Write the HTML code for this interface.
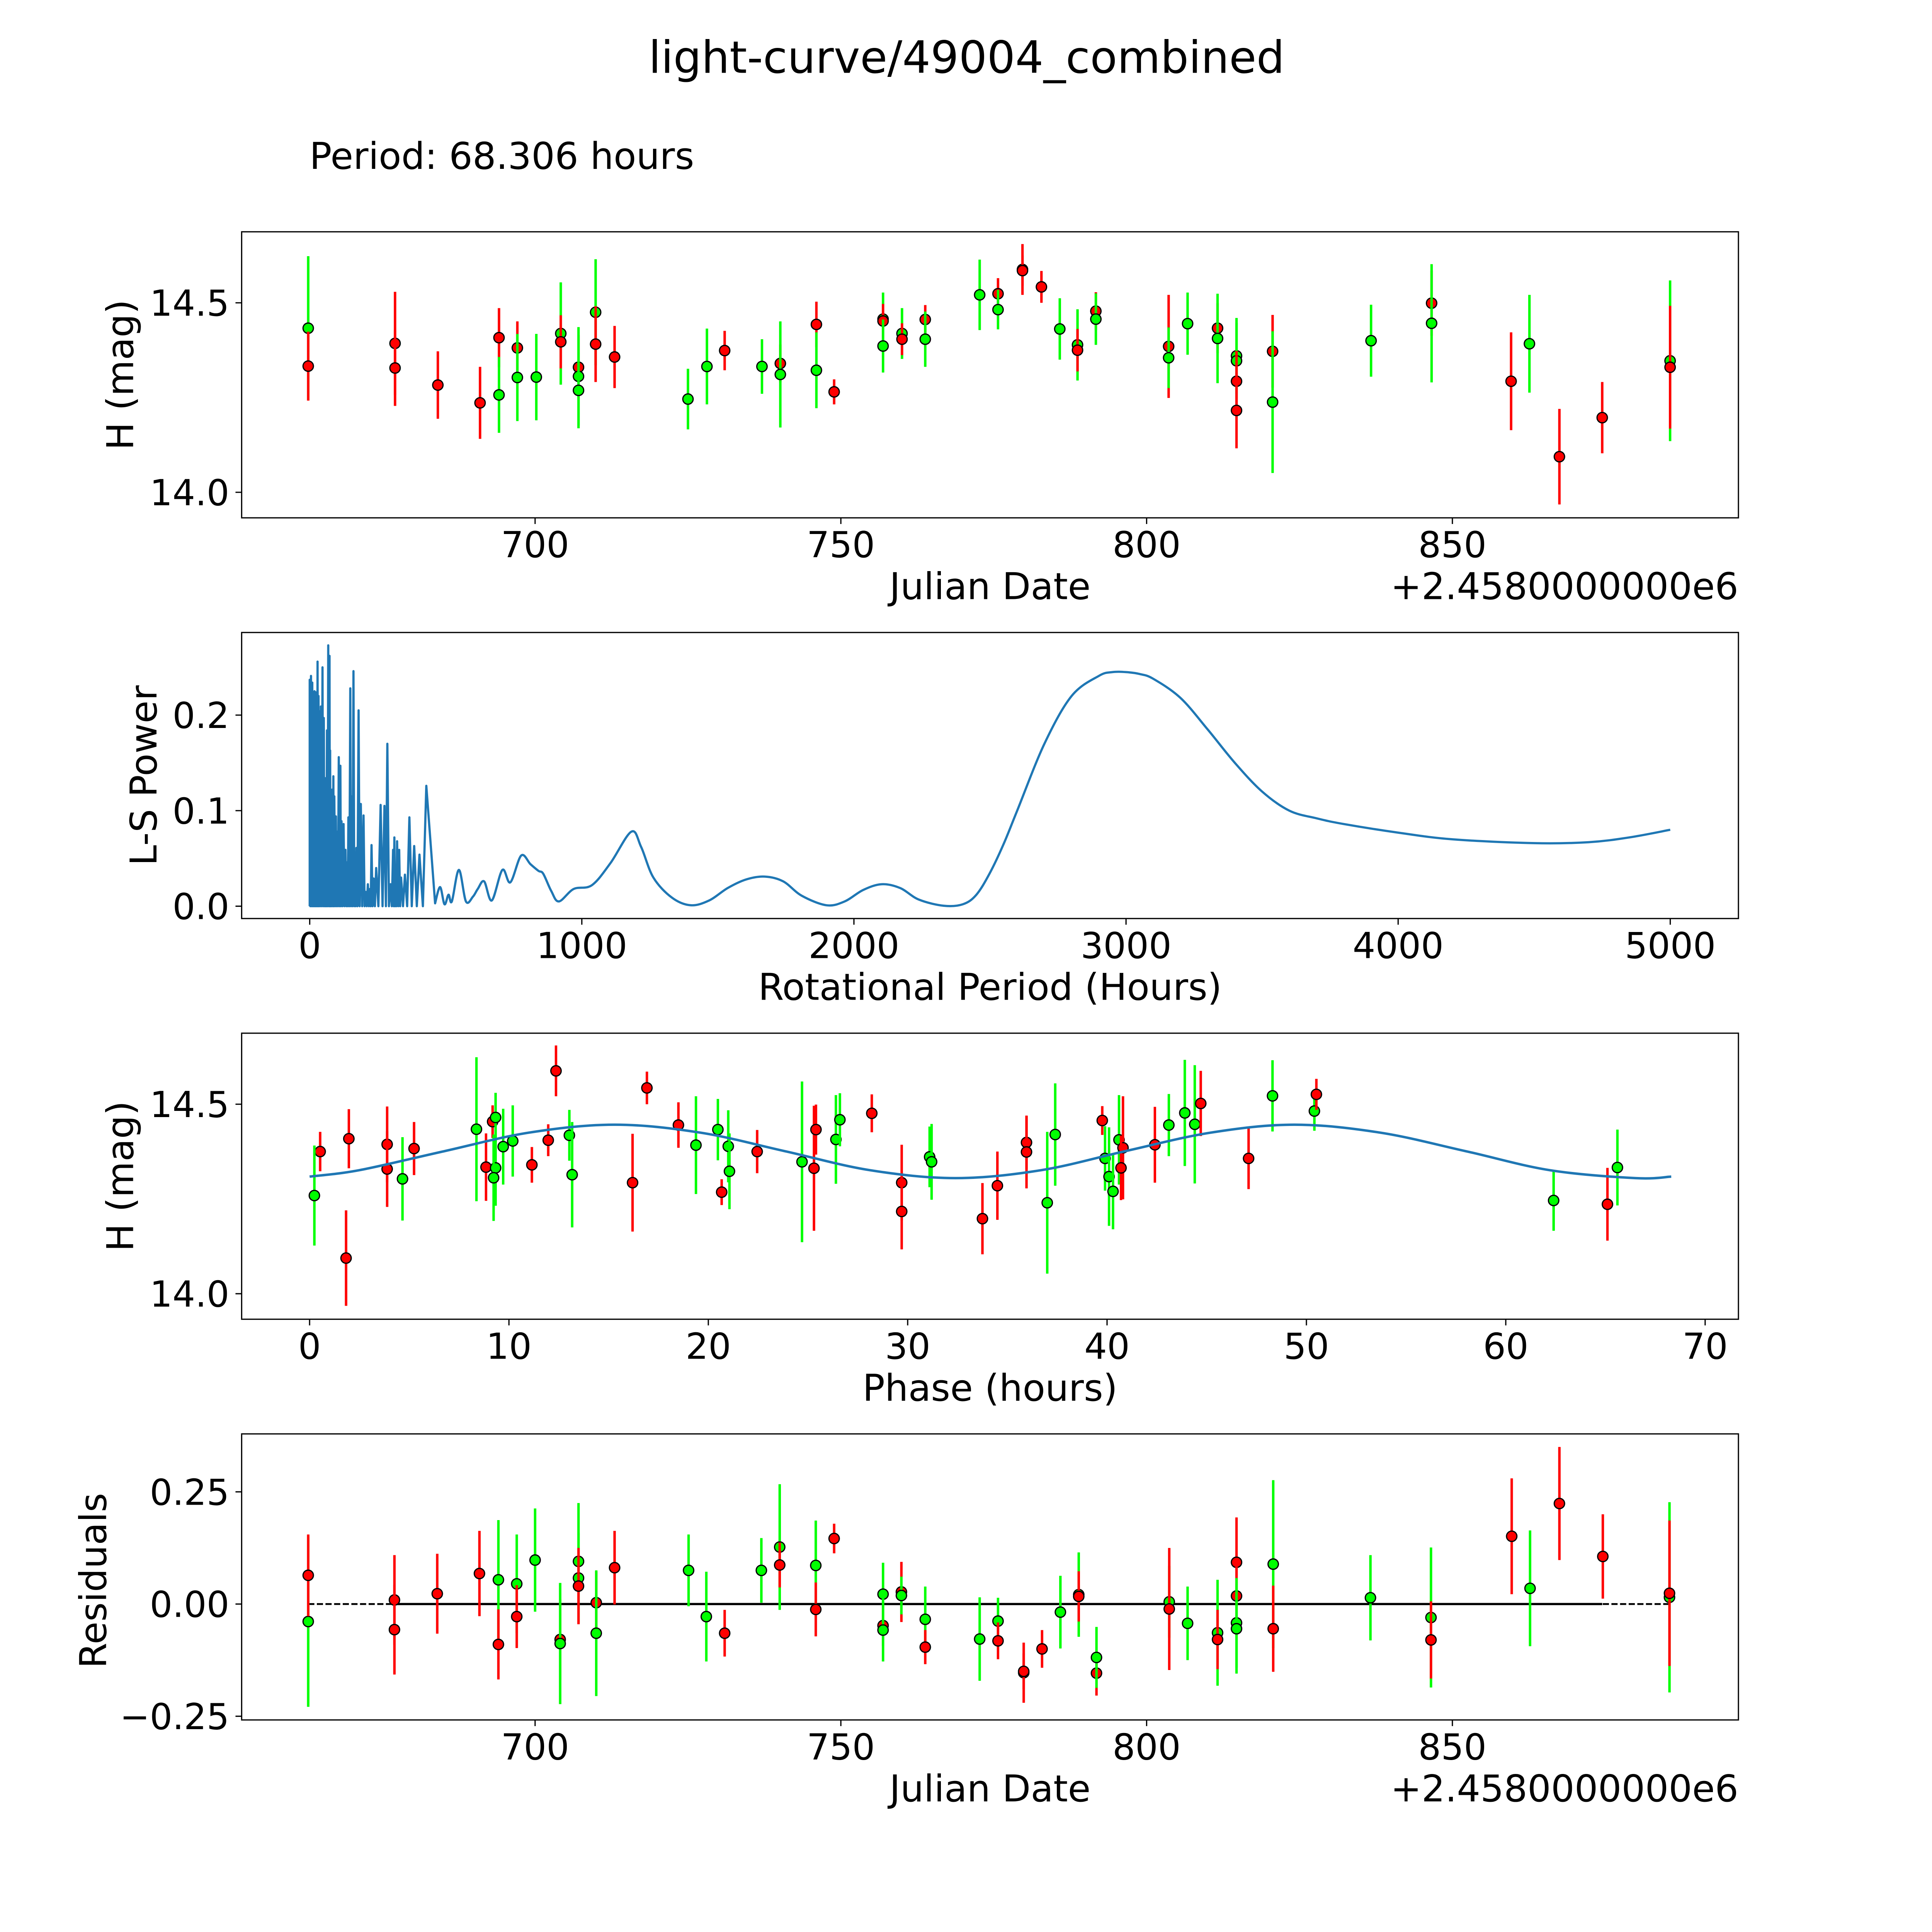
<!DOCTYPE html>
<html><head><meta charset="utf-8"><style>
html,body{margin:0;padding:0;background:#fff;overflow:hidden;width:100vw;height:100vh;}
svg{display:block;width:100vw;height:100vh;}
text{font-family:"DejaVu Sans","Liberation Sans",sans-serif;fill:#000;}
</style></head><body>
<svg id="fig" xmlns="http://www.w3.org/2000/svg" viewBox="0 0 1567 1567" preserveAspectRatio="xMidYMid meet">
<rect x="0" y="0" width="1567" height="1567" fill="#fff"/>
<text x="784" y="59" font-size="36" text-anchor="middle">light-curve/49004_combined</text>
<text x="251" y="137" font-size="30">Period: 68.306 hours</text>
<g id="layer"></g>
</svg>
<script>
// ---------- Panel 1 data: light curve ----------
const lcDays = [662.9,662.9,677.1,677.1,684.1,691.0,694.1,694.1,697.1,697.1,700.2,704.2,704.2,707.1,707.1,707.1,709.9,709.9,713.0,725.0,728.1,731.0,737.1,740.1,740.1,746.0,746.0,748.9,756.9,756.9,756.9,760.0,760.0,763.8,763.8,772.7,775.7,775.7,779.7,779.7,782.8,785.8,788.7,788.7,791.7,791.7,803.6,803.6,806.7,811.6,811.6,814.7,814.7,814.7,814.7,820.6,820.6,836.7,846.6,846.6,859.6,862.6,867.5,874.5,885.6,885.6];
const lcMags = [14.433,14.333,14.393,14.328,14.283,14.236,14.408,14.257,14.381,14.303,14.304,14.419,14.397,14.330,14.306,14.269,14.475,14.391,14.357,14.246,14.332,14.374,14.332,14.340,14.311,14.443,14.322,14.265,14.457,14.452,14.386,14.419,14.404,14.456,14.404,14.521,14.524,14.482,14.588,14.585,14.542,14.431,14.389,14.375,14.478,14.457,14.385,14.355,14.445,14.433,14.406,14.360,14.347,14.293,14.216,14.372,14.238,14.400,14.499,14.446,14.293,14.392,14.094,14.197,14.347,14.330];
const lcErrs = [0.19,0.091,0.136,0.10,0.089,0.095,0.078,0.10,0.07,0.115,0.114,0.135,0.07,0.085,0.13,0.10,0.14,0.10,0.082,0.08,0.10,0.052,0.072,0.05,0.14,0.06,0.10,0.033,0.07,0.045,0.07,0.067,0.042,0.038,0.073,0.093,0.041,0.052,0.067,0.04,0.042,0.081,0.094,0.056,0.05,0.068,0.136,0.08,0.082,0.066,0.118,0.10,0.10,0.08,0.10,0.096,0.187,0.095,0.086,0.156,0.129,0.129,0.126,0.094,0.212,0.162];
const lcColors = ["g","r","r","r","r","r","r","g","r","g","g","g","r","r","g","g","g","r","r","g","g","r","g","r","g","r","g","r","g","r","g","g","r","r","g","g","r","g","r","r","r","g","g","r","r","g","r","g","g","r","g","g","g","r","r","r","g","g","r","g","r","g","r","r","g","r"];

// ---------- Panel 2 data: periodogram ----------
const spikePeriods = [0,4.7,9.4,12.9,17.6,21.1,24.7,28.8,32.3,36.4,41.1,47.0,51.7,56.4,59.9,63.4,68.1,72.8,75.1,77.5,82.2,86.9,90.4,96.3,101.0,106.8,112.7,116.8,124.4,131.5,137.9,142.1,149.1,153.8,160.8,166.7,171.4,179.6,187.8,197.8,205.5,213.7,221.3,227.2,234.8,244.2,260.6,274.7,285.3,297.0,306.4,311.1,315.2,321.1,328.8,335.8,349.9,366.3,383.9,403.3,428.5];
const spikePowers = [0.237,0.241,0.234,0.220,0.225,0.224,0.203,0.256,0.220,0.204,0.209,0.250,0.197,0.134,0.134,0.184,0.273,0.262,0.163,0.083,0.122,0.136,0.115,0.094,0.078,0.156,0.147,0.089,0.086,0.059,0.046,0.093,0.228,0.115,0.246,0.046,0.061,0.205,0.107,0.095,0.015,0.023,0.018,0.064,0.029,0.040,0.106,0.105,0.170,0.023,0.059,0.072,0.028,0.068,0.059,0.030,0.033,0.093,0.063,0.054,0.126];
const smoothPeriods = [460.8,479,495.4,510.1,522.4,548.3,574.1,599.9,617.5,641,669.2,708,737.3,777.2,811.2,840.6,858.2,887.5,915.7,970,1037,1105,1182,1218,1263,1331,1400,1468,1536,1604,1672,1740,1808,1899,1966,2034,2102,2170,2238,2329,2400,2450,2500,2550,2600,2700,2800,2900,2950,3000,3050,3100,3200,3300,3400,3500,3600,3700,3800,4000,4200,4500,4700,4850,5000];
const smoothPowers = [0.003,0.020,0.002,0.012,0.005,0.038,0.005,0.010,0.018,0.026,0.006,0.038,0.025,0.053,0.044,0.037,0.034,0.016,0.005,0.018,0.022,0.045,0.078,0.062,0.030,0.009,0.001,0.006,0.019,0.028,0.031,0.026,0.011,0.001,0.005,0.017,0.023,0.019,0.007,0.0005,0.002,0.012,0.035,0.065,0.10,0.17,0.22,0.241,0.245,0.245,0.243,0.238,0.218,0.185,0.15,0.12,0.10,0.092,0.086,0.077,0.07,0.066,0.067,0.072,0.08];

// ---------- Panel 3 data: phased ----------
const phPhases = [0.53,0.24,1.83,1.97,3.89,3.89,4.66,5.24,8.37,8.85,9.18,9.33,9.33,9.23,9.71,10.19,11.15,11.97,12.36,13.03,13.17,16.2,16.92,18.5,19.38,20.48,20.67,21.0,21.06,22.45,24.7,25.3,25.4,26.4,26.6,28.2,29.7,29.7,31.1,31.2,33.75,34.5,35.96,35.96,37.0,37.4,39.76,39.9,40.1,40.3,40.6,40.8,40.7,42.4,43.1,43.9,44.4,44.7,47.1,48.3,50.4,50.5,62.4,65.1,65.6];
const phMags = [14.375,14.259,14.094,14.409,14.394,14.329,14.303,14.383,14.434,14.334,14.454,14.465,14.332,14.306,14.388,14.403,14.340,14.405,14.588,14.418,14.314,14.293,14.543,14.445,14.392,14.433,14.268,14.389,14.323,14.375,14.348,14.331,14.433,14.407,14.459,14.476,14.293,14.217,14.361,14.348,14.198,14.285,14.399,14.374,14.240,14.420,14.457,14.357,14.309,14.270,14.406,14.385,14.332,14.393,14.445,14.477,14.447,14.502,14.357,14.522,14.482,14.526,14.246,14.236,14.333];
const phErrs = [0.052,0.132,0.126,0.078,0.1,0.1,0.11,0.07,0.19,0.089,0.043,0.065,0.1,0.114,0.1,0.094,0.047,0.042,0.067,0.067,0.139,0.129,0.043,0.06,0.129,0.081,0.034,0.095,0.1,0.057,0.212,0.165,0.066,0.117,0.07,0.05,0.1,0.1,0.08,0.1,0.094,0.09,0.07,0.096,0.187,0.135,0.038,0.085,0.13,0.1,0.118,0.136,0.085,0.1,0.082,0.14,0.156,0.086,0.081,0.094,0.052,0.041,0.08,0.096,0.1];
const phColors = ["r","g","r","r","r","r","g","r","g","r","r","g","g","g","g","g","r","r","r","g","g","r","r","r","g","g","r","g","g","r","g","r","r","g","g","r","r","r","g","g","r","r","r","r","g","g","r","g","g","g","g","r","r","r","g","g","g","r","r","g","g","r","g","r","g"];
const modelPhases = [0,2.5,6.75,11.0,15.3,19.6,23.85,28.1,32.4,36.7,40.9,45.2,49.4,53.7,58.0,62.2,66.5,68.3];
const modelMags = [14.309,14.326,14.376,14.425,14.446,14.425,14.376,14.326,14.305,14.326,14.376,14.425,14.446,14.425,14.376,14.326,14.305,14.309];

// ---------- Panel 4 data: residuals ----------
const resDays = [662.9,662.9,677.0,677.0,684.0,690.9,694.0,694.0,697.0,697.0,700.0,704.1,704.1,707.1,707.1,707.1,710.0,710.0,713.0,725.1,728.0,731.0,737.0,740.0,740.0,745.9,745.9,748.9,756.9,756.9,756.9,759.9,759.9,763.8,763.8,772.7,775.7,775.7,779.9,779.9,782.9,785.9,788.9,788.9,791.8,791.8,803.7,803.7,806.7,811.6,811.6,814.7,814.7,814.7,814.7,820.7,820.7,836.6,846.5,846.5,859.7,862.7,867.5,874.6,885.5,885.5];
const resVals = [-0.039,0.064,0.009,-0.057,0.023,0.068,0.054,-0.090,0.045,-0.028,0.098,-0.079,-0.088,0.095,0.058,0.040,0.003,-0.065,0.081,0.075,-0.028,-0.065,0.075,0.127,0.087,0.086,-0.012,0.146,0.022,-0.048,-0.058,0.027,0.019,-0.034,-0.096,-0.078,-0.038,-0.082,-0.153,-0.150,-0.100,-0.018,0.021,0.017,-0.154,-0.119,0.005,-0.011,-0.043,-0.064,-0.079,0.093,0.018,-0.042,-0.055,0.089,-0.055,0.014,-0.030,-0.080,0.151,0.035,0.224,0.106,0.015,0.024];
const resErrs = [0.19,0.091,0.1,0.1,0.089,0.095,0.133,0.078,0.11,0.07,0.115,0.09,0.135,0.13,0.1,0.085,0.07,0.14,0.082,0.08,0.1,0.052,0.072,0.14,0.05,0.1,0.06,0.033,0.07,0.045,0.07,0.067,0.042,0.073,0.038,0.093,0.052,0.041,0.067,0.04,0.042,0.081,0.094,0.056,0.05,0.068,0.08,0.136,0.082,0.118,0.066,0.1,0.08,0.1,0.1,0.187,0.096,0.095,0.156,0.086,0.129,0.129,0.126,0.094,0.212,0.162];
const resColors = ["g","r","r","r","r","r","g","r","g","r","g","r","g","g","g","r","r","g","r","g","g","r","g","g","r","g","r","r","g","r","g","r","g","g","r","g","g","r","r","r","r","g","g","r","r","g","g","r","g","g","r","r","r","g","g","g","r","g","g","r","r","g","r","r","g","r"];

// ---------- tick label arrays ----------
const jdTicks = [700,750,800,850];
const lcYTicks = [14.0,14.5];
const lsXTicks = [0,1000,2000,3000,4000,5000];
const lsYTicks = [0.0,0.1,0.2];
const phXTicks = [0,10,20,30,40,50,60,70];
const resYTicks = [-0.25,0.0,0.25];

const NS = "http://www.w3.org/2000/svg";
const layer = document.getElementById("layer");
function mk(tag, attrs, parent){
  const e = document.createElementNS(NS, tag);
  for (const k in attrs) e.setAttribute(k, attrs[k]);
  (parent||layer).appendChild(e);
  return e;
}
const COL = {r:"#ff0000", g:"#00ff00"};
const LEFT = 196, RIGHT = 1410;
const TF = 29, LF = 30;

const xJD = d => 434 + (d - 700) * 4.96;
const y1 = m => 245.6 - (m - 14.5) * 307.4;
const xLS = p => 251.2 + p * 0.2207;
const y2 = v => 735 - v * 775;
const xPh = p => 251.1 + p * 16.17;
const y3 = m => 895.6 - (m - 14.5) * 307.4;
const y4 = r => 1301 - r * 364;

const panels = [[188,420],[513,745],[838,1070],[1163,1395]];

function frame(i, name){
  const [t,b] = panels[i];
  const r = mk("rect",{x:LEFT,y:t,width:RIGHT-LEFT,height:b-t,fill:"none",stroke:"#000","stroke-width":1});
  
  
}
function xtick(i, x, label, name){
  const b = panels[i][1];
  const l = mk("line",{x1:x,y1:b,x2:x,y2:b+5,stroke:"#000","stroke-width":1});
  
  
  const t = mk("text",{x:x,y:b+32,"font-size":TF,"text-anchor":"middle"});
  t.textContent = label;
  
  
}
function ytick(y, label, name){
  const l = mk("line",{x1:LEFT-5,y1:y,x2:LEFT,y2:y,stroke:"#000","stroke-width":1});
  
  
  const t = mk("text",{x:LEFT-10,y:y+10.5,"font-size":TF,"text-anchor":"end"});
  t.textContent = label;
  
  
}
function label(x, y, txt, rot, name, anchor){
  const a = {x:x,y:y,"font-size":LF,"text-anchor":anchor||"middle"};
  if (rot) a.transform = "rotate(-90 "+x+" "+y+")";
  const t = mk("text", a);
  t.textContent = txt;
  
  
}
function errPoint(x, y, yTop, yBot, c, name){
  const l = mk("line",{x1:x,y1:yTop,x2:x,y2:yBot,stroke:COL[c],"stroke-width":2});
  
  
  const p = mk("circle",{cx:x,cy:y,r:4.2,fill:COL[c],stroke:"#000","stroke-width":1});
  
  
}
function smoothPath(pts){
  let d = "M"+pts[0][0].toFixed(2)+","+pts[0][1].toFixed(2);
  for (let i=0;i<pts.length-1;i++){
    const p0 = pts[Math.max(0,i-1)], p1 = pts[i], p2 = pts[i+1], p3 = pts[Math.min(pts.length-1,i+2)];
    const c1x = p1[0]+(p2[0]-p0[0])/6, c1y = p1[1]+(p2[1]-p0[1])/6;
    const c2x = p2[0]-(p3[0]-p1[0])/6, c2y = p2[1]-(p3[1]-p1[1])/6;
    d += " C"+c1x.toFixed(2)+","+c1y.toFixed(2)+" "+c2x.toFixed(2)+","+c2y.toFixed(2)+" "+p2[0].toFixed(2)+","+p2[1].toFixed(2);
  }
  return d;
}

// ===== Panel 1 =====
frame(0, 'lightcurve-axes');
for (let i=0;i<lcDays.length;i++){
  const x = xJD(lcDays[i]);
  errPoint(x, y1(lcMags[i]), y1(lcMags[i]+lcErrs[i]), y1(lcMags[i]-lcErrs[i]), lcColors[i], 'lightcurve');
}
jdTicks.forEach(v => xtick(0, xJD(v), String(v), 'lightcurve-x'));
lcYTicks.forEach(v => ytick(y1(v), v.toFixed(1), 'lightcurve-y'));
label(803, 486, "Julian Date", false, 'lightcurve-x-axis-title');
label(1410, 486, "+2.4580000000e6", false, 'lightcurve-x-offset', 'end');
label(108, 304, "H (mag)", true, 'lightcurve-y-axis-title');

// ===== Panel 2 =====
frame(1, 'periodogram-axes');
let d2 = "M"+xLS(0).toFixed(2)+","+y2(0).toFixed(2);
for (let i=0;i<spikePeriods.length;i++){
  if (i>0){
    const mid = (spikePeriods[i-1]+spikePeriods[i])/2;
    d2 += " L"+xLS(mid).toFixed(2)+","+y2(0).toFixed(2);
  }
  d2 += " L"+xLS(spikePeriods[i]).toFixed(2)+","+y2(spikePowers[i]).toFixed(2);
}
const sp = smoothPeriods.map((p,i)=>[xLS(p), y2(smoothPowers[i])]);
d2 += " L"+sp[0][0].toFixed(2)+","+sp[0][1].toFixed(2) + " " + smoothPath(sp).replace(/^M[^ ]+/,"");
const ls = mk("path",{d:d2,fill:"none",stroke:"#1f77b4","stroke-width":1.8,"stroke-linejoin":"round"});


lsXTicks.forEach(v => xtick(1, xLS(v), String(v), 'periodogram-x'));
lsYTicks.forEach(v => ytick(y2(v), v.toFixed(1), 'periodogram-y'));
label(803, 811, "Rotational Period (Hours)", false, 'periodogram-x-axis-title');
label(127, 629, "L-S Power", true, 'periodogram-y-axis-title');

// ===== Panel 3 =====
frame(2, 'phased-axes');
for (let i=0;i<phPhases.length;i++){
  const x = xPh(phPhases[i]);
  errPoint(x, y3(phMags[i]), y3(phMags[i]+phErrs[i]), y3(phMags[i]-phErrs[i]), phColors[i], 'phased');
}
const mp = modelPhases.map((p,i)=>[xPh(p), y3(modelMags[i])]);
const ml = mk("path",{d:smoothPath(mp),fill:"none",stroke:"#1f77b4","stroke-width":2});


phXTicks.forEach(v => xtick(2, xPh(v), String(v), 'phased-x'));
lcYTicks.forEach(v => ytick(y3(v), v.toFixed(1), 'phased-y'));
label(803, 1136, "Phase (hours)", false, 'phased-x-axis-title');
label(108, 954, "H (mag)", true, 'phased-y-axis-title');

// ===== Panel 4 =====
frame(3, 'residuals-axes');
const dl = mk("line",{x1:xJD(662.9),y1:y4(0),x2:xJD(885.6),y2:y4(0),stroke:"#000","stroke-width":1.5,"stroke-dasharray":"5,2"});


const zl = mk("line",{x1:xJD(677),y1:y4(0),x2:xJD(874.5),y2:y4(0),stroke:"#000","stroke-width":1.8});


for (let i=0;i<resDays.length;i++){
  const x = xJD(resDays[i]);
  errPoint(x, y4(resVals[i]), y4(resVals[i]+resErrs[i]), y4(resVals[i]-resErrs[i]), resColors[i], 'residuals');
}
jdTicks.forEach(v => xtick(3, xJD(v), String(v), 'residuals-x'));
resYTicks.forEach(v => ytick(y4(v), (v<0?"\u2212":"")+Math.abs(v).toFixed(2), 'residuals-y'));
label(803, 1461, "Julian Date", false, 'residuals-x-axis-title');
label(1410, 1461, "+2.4580000000e6", false, 'residuals-x-offset', 'end');
label(86, 1282, "Residuals", true, 'residuals-y-axis-title');
</script>
</body></html>
